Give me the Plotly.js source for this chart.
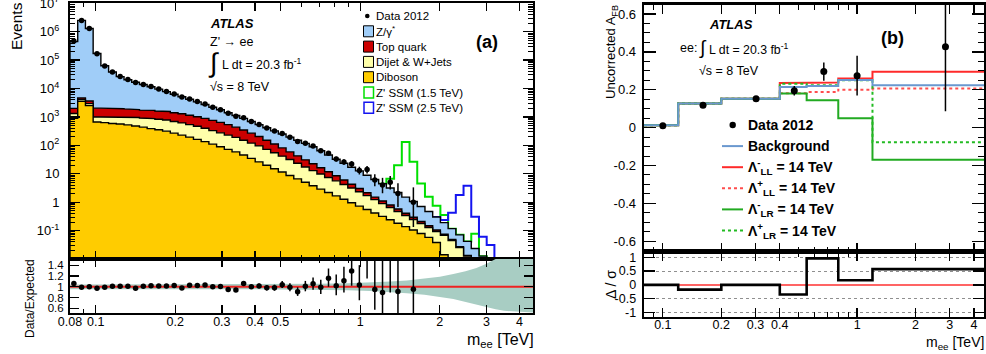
<!DOCTYPE html>
<html><head><meta charset="utf-8">
<script src="https://cdn.plot.ly/plotly-3.0.1.min.js"></script>
<style>html,body{margin:0;padding:0;background:#fff;}#chart{width:986px;height:354px;}</style>
</head><body><div id="chart"></div>
<script>
// ---------- Panel (a): m_ee spectrum ----------
const massEdges = [0.08, 0.08556, 0.0915, 0.09786, 0.10466, 0.11193, 0.1197, 0.12802, 0.13691, 0.14642, 0.15659, 0.16747, 0.1791, 0.19154, 0.20485, 0.21908, 0.2343, 0.25058, 0.26798, 0.2866, 0.30651, 0.3278, 0.35057, 0.37493, 0.40097, 0.42883, 0.45862, 0.49048, 0.52455, 0.56099, 0.59996, 0.64164, 0.68622, 0.73389, 0.78487, 0.8394, 0.89771, 0.96007, 1.02677, 1.0981, 1.17438, 1.25597, 1.34322, 1.43653, 1.53633, 1.64305, 1.7572, 1.87927, 2.00982, 2.14944, 2.29876, 2.45845, 2.62924, 2.81189, 3.00723, 3.21614, 3.43956, 3.6785, 3.93405, 4.20735, 4.5];
// upper edge of each stacked layer (events per bin)
const zgammaStack = [4.47e5, 2.51e6, 1.29e6, 1.70e5, 6.31e4, 3.80e4, 2.63e4, 2.04e4, 1.66e4, 1.38e4, 1.15e4, 9550, 7760, 6310, 5130, 4170, 3390, 2750, 2190, 1780, 1410, 1120, 891, 692, 537, 417, 324, 251, 195, 151, 117, 89.1, 64.6, 45.7, 32.4, 23.4, 17.0, 12.6, 8.91, 6.31, 4.47, 3.16, 2.19, 1.51, 1.05, 0.708, 0.468, 0.302, 0.191, 0.117, 0.0708, 0.0417, 0.0234, 0.0126, 0, 0, 0, 0, 0, 0];
const topStack = [2000, 4680, 3630, 2040, 2040, 2000, 1950, 1910, 1820, 1740, 1700, 1620, 1550, 1410, 1290, 1150, 1020, 891, 759, 646, 537, 437, 347, 269, 204, 151, 112, 81.3, 58.9, 42.7, 30.9, 22.4, 16.2, 11.7, 8.51, 6.03, 4.27, 3.02, 2.14, 1.51, 1.10, 0.794, 0.575, 0.407, 0.295, 0.209, 0.148, 0.105, 0.0741, 0.049, 0.0269, 0.0132, 0, 0, 0, 0, 0, 0, 0, 0];
const dijetStack = [1320, 4170, 2950, 1000, 1000, 1000, 977, 977, 955, 912, 871, 832, 776, 692, 617, 537, 468, 398, 331, 275, 229, 191, 151, 120, 95.5, 72.4, 55.0, 41.7, 31.6, 23.4, 17.4, 12.9, 9.77, 7.41, 5.62, 4.17, 3.16, 2.34, 1.70, 1.23, 0.891, 0.646, 0.468, 0.339, 0.245, 0.178, 0.129, 0.0933, 0.0676, 0.0447, 0.0251, 0.0126, 0, 0, 0, 0, 0, 0, 0, 0];
const dibosonStack = [891, 3550, 2510, 661, 631, 589, 562, 525, 479, 437, 389, 355, 316, 269, 229, 195, 162, 135, 110, 89.1, 72.4, 58.9, 45.7, 34.7, 26.3, 20.0, 15.1, 11.5, 8.71, 6.61, 5.01, 3.80, 2.88, 2.19, 1.66, 1.26, 0.955, 0.724, 0.550, 0.417, 0.316, 0.240, 0.182, 0.138, 0.105, 0.0794, 0.0575, 0.038, 0.0141, 0, 0, 0, 0, 0, 0, 0, 0, 0, 0, 0];
const dataEvents = [473800, 2484900, 1290000, 165750, 62470, 38380, 26560, 20600, 16185, 13940, 11730, 9693, 7876, 6468, 5027, 4295, 3475, 2846, 2190, 1789, 1340, 1053, 944, 692, 545, 409, 318, 261, 193, 137, 118, 94, 64, 53, 33, 26, 22, 13, 14, 6, 4, 5, 2, 0, 1, 0, 0, 0, 0, 0, 0, 0, 0, 0, 0, 0, 0, 0, 0, 0];
const zprime15 = Array(40).fill(null).concat([4.47, 6.61, 20.0, 132, 26.3, 4.57, 1.55, 0.741, 0.355, 0.117, 0.0708, 0.0417, 0.0776, 0.0126]).concat(Array(6).fill(null));
const zprime25 = Array(47).fill(null).concat([0.302, 0.234, 0.427, 1.78, 3.80, 0.309, 0.0603, 0.0309]).concat(Array(5).fill(null));
const systBandMass = [0.08, 0.3, 0.5, 0.7, 0.9, 1.1, 1.3, 1.5, 1.75, 2.0, 2.25, 2.5, 2.75, 3.0, 3.25, 3.5, 4.0, 4.5];
const systBandUp   = [0.045, 0.045, 0.05, 0.055, 0.065, 0.08, 0.10, 0.12, 0.15, 0.19, 0.24, 0.29, 0.35, 0.43, 0.52, 0.6, 0.7, 0.8];
const systBandDown = [0.045, 0.045, 0.05, 0.055, 0.065, 0.08, 0.10, 0.12, 0.15, 0.19, 0.23, 0.28, 0.33, 0.38, 0.42, 0.45, 0.47, 0.48];
const massTickVals = [0.08, 0.1, 0.2, 0.3, 0.4, 0.5, 1, 2, 3, 4];
const massTickText = ['0.08', '0.1', '0.2', '0.3', '0.4', '0.5', '1', '2', '3', '4'];
const eventsTickVals = [0.1, 1, 10, 100, 1e3, 1e4, 1e5, 1e6, 1e7];
const eventsTickText = ['10<sup>-1</sup>', '1', '10', '10<sup>2</sup>', '10<sup>3</sup>', '10<sup>4</sup>', '10<sup>5</sup>', '10<sup>6</sup>', '10<sup>7</sup>'];

// ---------- Panel (b): A_FB ----------
const afbEdges = [0.08, 0.12, 0.2, 0.4, 0.55, 0.8, 1.2, 4.5];
const afbBackground = [0.012, 0.128, 0.152, 0.214, 0.220, 0.252, 0.224];
const afbLLminus = [0.012, 0.128, 0.152, 0.236, 0.238, 0.259, 0.295];
const afbLLplus  = [0.012, 0.128, 0.152, 0.182, 0.188, 0.200, 0.206];
const afbLRminus = [0.012, 0.128, 0.152, 0.180, 0.145, 0.050, -0.170];
const afbLRplus  = [0.012, 0.128, 0.152, 0.232, 0.224, 0.250, -0.077];
const afbDataMass = [0.100, 0.161, 0.302, 0.475, 0.674, 1.000, 2.85];
const afbData     = [0.010, 0.118, 0.152, 0.195, 0.296, 0.274, 0.427];
const afbDataErr  = [0.004, 0.005, 0.006, 0.025, 0.048, 0.105, 0.34];
const pullData = [0.0, -0.17, 0.0, -0.35, 0.96, 0.17, 0.57];
const pullRef  = [0, 0, 0, 0, 0, 0, 0];
const afbTickVals = [0.1, 0.2, 0.3, 0.4, 1, 2, 3, 4];
const afbTickText = ['0.1', '0.2', '0.3', '0.4', '1', '2', '3', '4'];

// ---------- helpers ----------
const FONT = 'Liberation Sans, Arial, Helvetica, sans-serif';
const W = 986, H = 354;
const px = x => x / W, py = y => 1 - y / H;
const FLOOR = 1e-4;
function stepPoly(edges, vals) {
  const xs = [edges[0]], ys = [FLOOR];
  for (let i = 0; i < vals.length; i++) {
    const v = vals[i] > 0 ? vals[i] : FLOOR;
    xs.push(edges[i], edges[i + 1]); ys.push(v, v);
  }
  xs.push(edges[vals.length]); ys.push(FLOOR);
  return {xs, ys};
}
function stepLine(edges, vals, dropTo) {
  const xs = [], ys = []; let last = -1;
  for (let i = 0; i < vals.length; i++) {
    if (vals[i] === null || vals[i] === undefined) continue;
    xs.push(edges[i], edges[i + 1]); ys.push(vals[i], vals[i]); last = i;
  }
  if (dropTo !== undefined) { xs.push(edges[last + 1]); ys.push(dropTo); }
  return {xs, ys};
}
const garUp = n => n + 1 + Math.sqrt(n + 0.75);
const garLow = n => n - Math.sqrt(n - 0.25);
const centers = massEdges.slice(0, -1).map((e, i) => Math.sqrt(e * massEdges[i + 1]));

const traces = [];
[[zprime15, '#00e000'], [zprime25, '#1414f0']].forEach(([vals, col]) => {
  const s = stepLine(massEdges, vals, FLOOR);
  traces.push({x: s.xs, y: s.ys, xaxis: 'x', yaxis: 'y', mode: 'lines', line: {color: col, width: 2}, hoverinfo: 'skip'});
});
[[zgammaStack, '#a0cdf8'], [topStack, '#cc0000'], [dijetStack, '#ffffaa'], [dibosonStack, '#ffcc00']].forEach(([vals, col]) => {
  const p = stepPoly(massEdges, vals);
  traces.push({x: p.xs, y: p.ys, xaxis: 'x', yaxis: 'y', mode: 'lines', fill: 'toself', fillcolor: col,
    line: {color: '#000', width: 1.4}, hoverinfo: 'skip'});
});
{
  const x = [], y = [], up = [], dn = [];
  dataEvents.forEach((n, i) => { if (n > 0) { x.push(centers[i]); y.push(n); up.push(garUp(n) - n); dn.push(n - garLow(n)); } });
  traces.push({x, y, xaxis: 'x', yaxis: 'y', mode: 'markers', marker: {color: '#000', size: 5.5},
    error_y: {type: 'data', symmetric: false, array: up, arrayminus: dn, color: '#000', thickness: 1.5, width: 0}, hoverinfo: 'skip'});
}
{
  const bx = systBandMass.concat(systBandMass.slice().reverse());
  const by = systBandMass.map((m, i) => 1 + systBandUp[i]).concat(systBandMass.map((m, i) => 1 - systBandDown[i]).reverse());
  traces.push({x: bx, y: by, xaxis: 'x2', yaxis: 'y2', mode: 'lines', fill: 'toself', fillcolor: '#a8cdc3', line: {width: 0}, hoverinfo: 'skip'});
  traces.push({x: [systBandMass[0], systBandMass[systBandMass.length - 1]], y: [1, 1], xaxis: 'x2', yaxis: 'y2', mode: 'lines', line: {color: '#ee2222', width: 2}, hoverinfo: 'skip'});
}
{
  const x = [], y = [], up = [], dn = [];
  dataEvents.forEach((n, i) => {
    const b = zgammaStack[i];
    if (n > 0 && b > 0) { x.push(centers[i]); y.push(n / b); up.push((garUp(n) - n) / b); dn.push((n - garLow(n)) / b); }
  });
  traces.push({x, y, xaxis: 'x2', yaxis: 'y2', mode: 'markers', marker: {color: '#000', size: 5.5},
    error_y: {type: 'data', symmetric: false, array: up, arrayminus: dn, color: '#000', thickness: 1.5, width: 0}, hoverinfo: 'skip'});
}
[[afbLLminus, '#ff2a2a', 'solid'], [afbLLplus, '#ff4d4d', 'dot'], [afbLRminus, '#22aa22', 'solid'], [afbLRplus, '#22bb22', 'dot'], [afbBackground, '#6a98cf', 'solid']].forEach(([vals, col, dash]) => {
  const s = stepLine(afbEdges, vals);
  traces.push({x: s.xs, y: s.ys, xaxis: 'x3', yaxis: 'y3', mode: 'lines', line: {color: col, width: 2, dash}, hoverinfo: 'skip'});
});
traces.push({x: afbDataMass, y: afbData, xaxis: 'x3', yaxis: 'y3', mode: 'markers', marker: {color: '#000', size: 7},
  error_y: {type: 'data', array: afbDataErr, color: '#000', thickness: 1.5, width: 0}, hoverinfo: 'skip'});
{
  const r = stepLine(afbEdges, pullRef);
  traces.push({x: r.xs, y: r.ys, xaxis: 'x4', yaxis: 'y4', mode: 'lines', line: {color: '#ff6464', width: 2}, hoverinfo: 'skip'});
  const s = stepLine(afbEdges, pullData);
  traces.push({x: s.xs, y: s.ys, xaxis: 'x4', yaxis: 'y4', mode: 'lines', line: {color: '#000', width: 2.6}, hoverinfo: 'skip'});
}

// ---------- axes ----------
const base = {showline: true, linecolor: '#000', linewidth: 2, mirror: 'ticks', ticks: 'inside', tickcolor: '#000', tickwidth: 1.3,
  zeroline: false, showgrid: false, automargin: false, fixedrange: true, ticklabeloverflow: 'allow',
  tickfont: {family: FONT, size: 13, color: '#000'}};
const LX = [Math.log10(0.08), Math.log10(4.5)];
const minorLog = [];
for (let e = -2; e < 7; e++) for (let d = 2; d <= 9; d++) minorLog.push(d * Math.pow(10, e));
const domA = [70 / W, 533 / W], domB = [644 / W, 984 / W];
const layout = {
  width: W, height: H, margin: {l: 0, r: 0, t: 0, b: 0}, paper_bgcolor: '#fff', plot_bgcolor: '#fff', showlegend: false,
  font: {family: FONT, color: '#000'},
  xaxis: Object.assign({}, base, {type: 'log', domain: domA, range: LX, anchor: 'y', tickmode: 'array', tickvals: massTickVals, ticktext: massTickText, showticklabels: false, ticklen: 8,
    minor: {tickmode: 'array', tickvals: [0.09, 0.6, 0.7, 0.8, 0.9], ticks: 'inside', ticklen: 4, tickcolor: '#000', tickwidth: 1}}),
  yaxis: Object.assign({}, base, {type: 'log', domain: [1 - 259 / H, 1 - 3 / H], range: [-2, 7.01], anchor: 'x', tickmode: 'array', tickvals: eventsTickVals, ticktext: eventsTickText, ticklen: 10, ticklabelstandoff: 6,
    minor: {tickmode: 'array', tickvals: minorLog, ticks: 'inside', ticklen: 5, tickcolor: '#000', tickwidth: 1}}),
  xaxis2: Object.assign({}, base, {type: 'log', domain: domA, range: LX, anchor: 'y2', tickmode: 'array', tickvals: massTickVals, ticktext: massTickText, ticklen: 8, ticklabelstandoff: -4,
    tickfont: {family: FONT, size: 12.5, color: '#000'},
    minor: {tickmode: 'array', tickvals: [0.09, 0.6, 0.7, 0.8, 0.9], ticks: 'inside', ticklen: 4, tickcolor: '#000', tickwidth: 1}}),
  yaxis2: Object.assign({}, base, {domain: [1 - 313 / H, 1 - 259 / H], range: [0.51, 1.52], anchor: 'x2', tickmode: 'array', tickvals: [0.6, 0.8, 1, 1.2, 1.4], ticktext: ['0.6', '0.8', '1', '1.2', '1.4'], ticklen: 9, ticklabelstandoff: 2,
    tickfont: {family: FONT, size: 11.5, color: '#000'}}),
  xaxis3: Object.assign({}, base, {type: 'log', domain: domB, range: LX, anchor: 'y3', tickmode: 'array', tickvals: afbTickVals, ticktext: afbTickText, showticklabels: false, ticklen: 9, linewidth: 2.4,
    minor: {tickmode: 'array', tickvals: [0.09, 0.5, 0.6, 0.7, 0.8, 0.9], ticks: 'inside', ticklen: 5, tickcolor: '#000', tickwidth: 1}}),
  yaxis3: Object.assign({}, base, {domain: [1 - 251.7 / H, 1 - 4.5 / H], range: [-0.655, 0.65], anchor: 'x3', tickmode: 'array', tickvals: [-0.6, -0.4, -0.2, 0, 0.2, 0.4, 0.6], ticktext: ['-0.6', '-0.4', '-0.2', '0', '0.2', '0.4', '0.6'], ticklen: 12, linewidth: 2.4, ticklabelstandoff: 3,
    minor: {tickmode: 'linear', tick0: 0, dtick: 0.05, ticks: 'inside', ticklen: 6, tickcolor: '#000', tickwidth: 1}}),
  xaxis4: Object.assign({}, base, {type: 'log', domain: domB, range: LX, anchor: 'y4', tickmode: 'array', tickvals: afbTickVals, ticktext: afbTickText, ticklen: 9, linewidth: 2.4, ticklabelstandoff: -5,
    tickfont: {family: FONT, size: 12.5, color: '#000'},
    minor: {tickmode: 'array', tickvals: [0.09, 0.5, 0.6, 0.7, 0.8, 0.9], ticks: 'inside', ticklen: 5, tickcolor: '#000', tickwidth: 1}}),
  yaxis4: Object.assign({}, base, {domain: [1 - 316.7 / H, 1 - 251.7 / H], range: [-1.15, 1.2], anchor: 'x4', tickmode: 'array', tickvals: [-1, -0.5, 0, 0.5, 1], ticktext: ['-1', '-0.5', '0', '0.5', '1'], ticklen: 11, linewidth: 2.4, ticklabelstandoff: 3,
    tickfont: {family: FONT, size: 12.5, color: '#000'}, showgrid: true, gridcolor: '#444', gridwidth: 0.6, griddash: 'dot'}),
  shapes: [], annotations: []
};

function ann(text, x, y, size, o) {
  return Object.assign({text, x: px(x), y: py(y), xref: 'paper', yref: 'paper', showarrow: false, xanchor: 'left', yanchor: 'middle',
    font: {family: FONT, size, color: '#000'}, borderpad: 0}, o || {});
}
const A = layout.annotations, S = layout.shapes;
A.push(ann('<b><i>ATLAS</i></b>', 209, 23, 13));
A.push(ann("Z' → ee", 209, 42, 12.5));
A.push(ann('∫', 207, 63, 27));
A.push(ann('L dt = 20.3 fb<sup>-1</sup>', 221, 64, 12.3));
A.push(ann('√s = 8 TeV', 209, 87, 12.5));
A.push(ann('<b>(a)</b>', 487, 42, 18, {xanchor: 'center'}));
const legA = [['Data 2012', null], ['Z/γ<sup>*</sup>', '#a0cdf8'], ['Top quark', '#cc0000'], ['Dijet & W+Jets', '#ffffaa'], ['Diboson', '#ffcc00'], ["Z' SSM (1.5 TeV)", 'G'], ["Z' SSM (2.5 TeV)", 'B']];
legA.forEach(([t, c], i) => {
  const yy = 16 + i * 15.3;
  A.push(ann(t, 375, yy, 11.5));
  if (c === null) {
    S.push({type: 'circle', xref: 'paper', yref: 'paper', x0: px(365), x1: px(369.6), y0: py(yy + 2.3), y1: py(yy - 2.3), fillcolor: '#000', line: {width: 0}});
  } else if (c === 'G' || c === 'B') {
    S.push({type: 'rect', xref: 'paper', yref: 'paper', x0: px(364), x1: px(373.5), y0: py(yy + 5.5), y1: py(yy - 5.5), fillcolor: '#fff', line: {color: c === 'G' ? '#00e000' : '#1414f0', width: 1.5}});
  } else {
    S.push({type: 'rect', xref: 'paper', yref: 'paper', x0: px(363.5), x1: px(373.5), y0: py(yy + 5.5), y1: py(yy - 5.5), fillcolor: c, line: {color: '#000', width: 1}});
  }
});
A.push(ann('Events', 16, 1, 15.5, {textangle: -90, xanchor: 'center', yanchor: 'top'}));
A.push(ann('Data/Expected', 30, 299, 12, {textangle: -90, xanchor: 'center'}));
A.push(ann('m<sub>ee</sub> [TeV]', 535, 340, 16, {xanchor: 'right'}));
A.push(ann('<b><i>ATLAS</i></b>', 708, 24, 13));
A.push(ann('ee:', 679, 48, 12.5));
A.push(ann('∫', 698, 48, 19));
A.push(ann('L dt = 20.3 fb<sup>-1</sup>', 708, 49, 12.3));
A.push(ann('√s = 8 TeV', 698, 71, 12.5));
A.push(ann('<b>(b)</b>', 892, 38, 18, {xanchor: 'center'}));
const legB = [['Data 2012', 'data'], ['Background', ['#6a98cf', 'solid']], ['Λ<sup>-</sup><sub>LL</sub> = 14 TeV', ['#ff2a2a', 'solid']], ['Λ<sup>+</sup><sub>LL</sub> = 14 TeV', ['#ff4d4d', 'dot']], ['Λ<sup>-</sup><sub>LR</sub> = 14 TeV', ['#22aa22', 'solid']], ['Λ<sup>+</sup><sub>LR</sub> = 14 TeV', ['#22bb22', 'dot']]];
legB.forEach(([t, st], i) => {
  const yy = 125 + i * 21.1;
  A.push(ann('<b>' + t + '</b>', 747, yy, 14));
  if (st === 'data') {
    S.push({type: 'circle', xref: 'paper', yref: 'paper', x0: px(729.5), x1: px(735.9), y0: py(yy + 3.2), y1: py(yy - 3.2), fillcolor: '#000', line: {width: 0}});
  } else {
    S.push({type: 'line', xref: 'paper', yref: 'paper', x0: px(722), x1: px(743), y0: py(yy), y1: py(yy), line: {color: st[0], width: 2, dash: st[1]}});
  }
});
A.push(ann('Uncorrected A<sub>FB</sub>', 611, 4, 13, {textangle: -90, xanchor: 'center', yanchor: 'top'}));
A.push(ann('Δ / σ', 611, 285, 14, {textangle: -90, xanchor: 'center'}));
A.push(ann('m<sub>ee</sub> [TeV]', 985, 343, 14, {xanchor: 'right'}));

Plotly.newPlot('chart', traces, layout, {staticPlot: true, displayModeBar: false});
</script>
</body></html>
